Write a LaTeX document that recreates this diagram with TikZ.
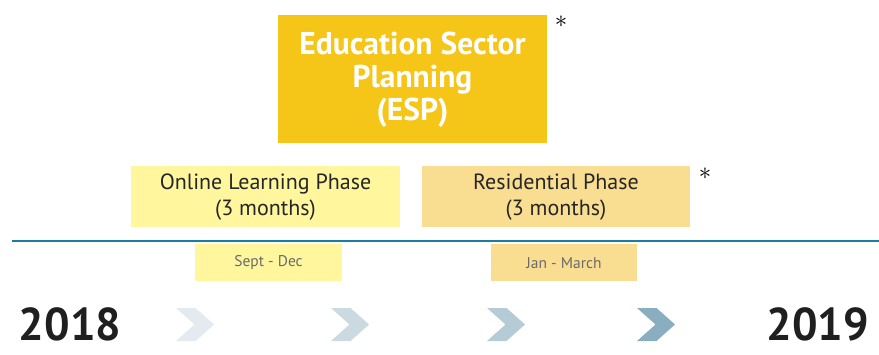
\documentclass[tikz,border=0pt]{standalone}
\usepackage{fontspec}
\setmainfont{PT Sans}
\newfontfamily\yearfont[FakeStretch=0.98]{PT Sans Bold}
\definecolor{espgold}{HTML}{F5C518}
\definecolor{lightyel}{HTML}{FFF69E}
\definecolor{lightor}{HTML}{F9DD90}
\definecolor{tealline}{HTML}{1B7E9E}
\definecolor{greytxt}{HTML}{6A6A6A}
\definecolor{chA}{HTML}{E3EAF0}
\definecolor{chB}{HTML}{CBD9E1}
\definecolor{chC}{HTML}{B5CBD6}
\definecolor{chD}{HTML}{88AEC0}
\begin{document}
\begin{tikzpicture}[x=1pt,y=-1pt,
  box/.style={inner sep=0pt,outer sep=0pt,align=center},
  starmark/.style={inner sep=0pt,outer sep=0pt,font=\fontsize{30}{30}\selectfont,text=black},
  chev/.pic={\fill (0,0)--(19.5,0)--(38,16.5)--(19.5,33)--(0,33)--(18.5,16.5)--cycle;}]
\useasboundingbox (0,0) rectangle (879,354);
\fill[white] (0,0) rectangle (879,354);
% ESP box
\fill[espgold] (278,15) rectangle (547,143);
\node[box,text=white,font=\bfseries\fontsize{31.5}{33}\selectfont] (esp) at (412.5,80) {Education Sector\\Planning\\(ESP)};
\node[starmark] (star1) at (561,22) {$\ast$};
% phases
\fill[lightyel] (131,166) rectangle (400,227);
\node[box,font=\fontsize{22}{26}\selectfont,text=black!85] (online) at (265.5,197) {Online Learning Phase\\(3 months)};
\fill[lightor] (422,166) rectangle (690,227);
\node[box,font=\fontsize{22}{26}\selectfont,text=black!85] (resid) at (556,197) {Residential Phase\\(3 months)};
\node[starmark] (star2) at (705,174) {$\ast$};
% timeline
\coordinate (l0) at (12,241);
\coordinate (l1) at (879,241);
\draw[tealline,line width=2pt] (l0) -- (l1);
% dates
\fill[lightyel] (195,244) rectangle (342,281);
\node[box,font=\fontsize{15.5}{15.5}\selectfont,text=greytxt] (sept) at (268.5,263) {Sept - Dec};
\fill[lightor] (491,244) rectangle (637,281);
\node[box,font=\fontsize{15.5}{15.5}\selectfont,text=greytxt] (jan) at (564,263) {Jan - March};
% years
\node[box,font=\yearfont\fontsize{46}{46}\selectfont,text=black!88,anchor=west] (y2018) at (19,324) {2018};
\node[box,font=\yearfont\fontsize{46}{46}\selectfont,text=black!88,anchor=east] (y2019) at (869,324) {2019};
% chevrons
\pic[chA] at (176,308) {chev};
\pic[chB] at (331,308) {chev};
\pic[chC] at (487,308) {chev};
\pic[chD] at (637,308) {chev};
\end{tikzpicture}
\end{document}
